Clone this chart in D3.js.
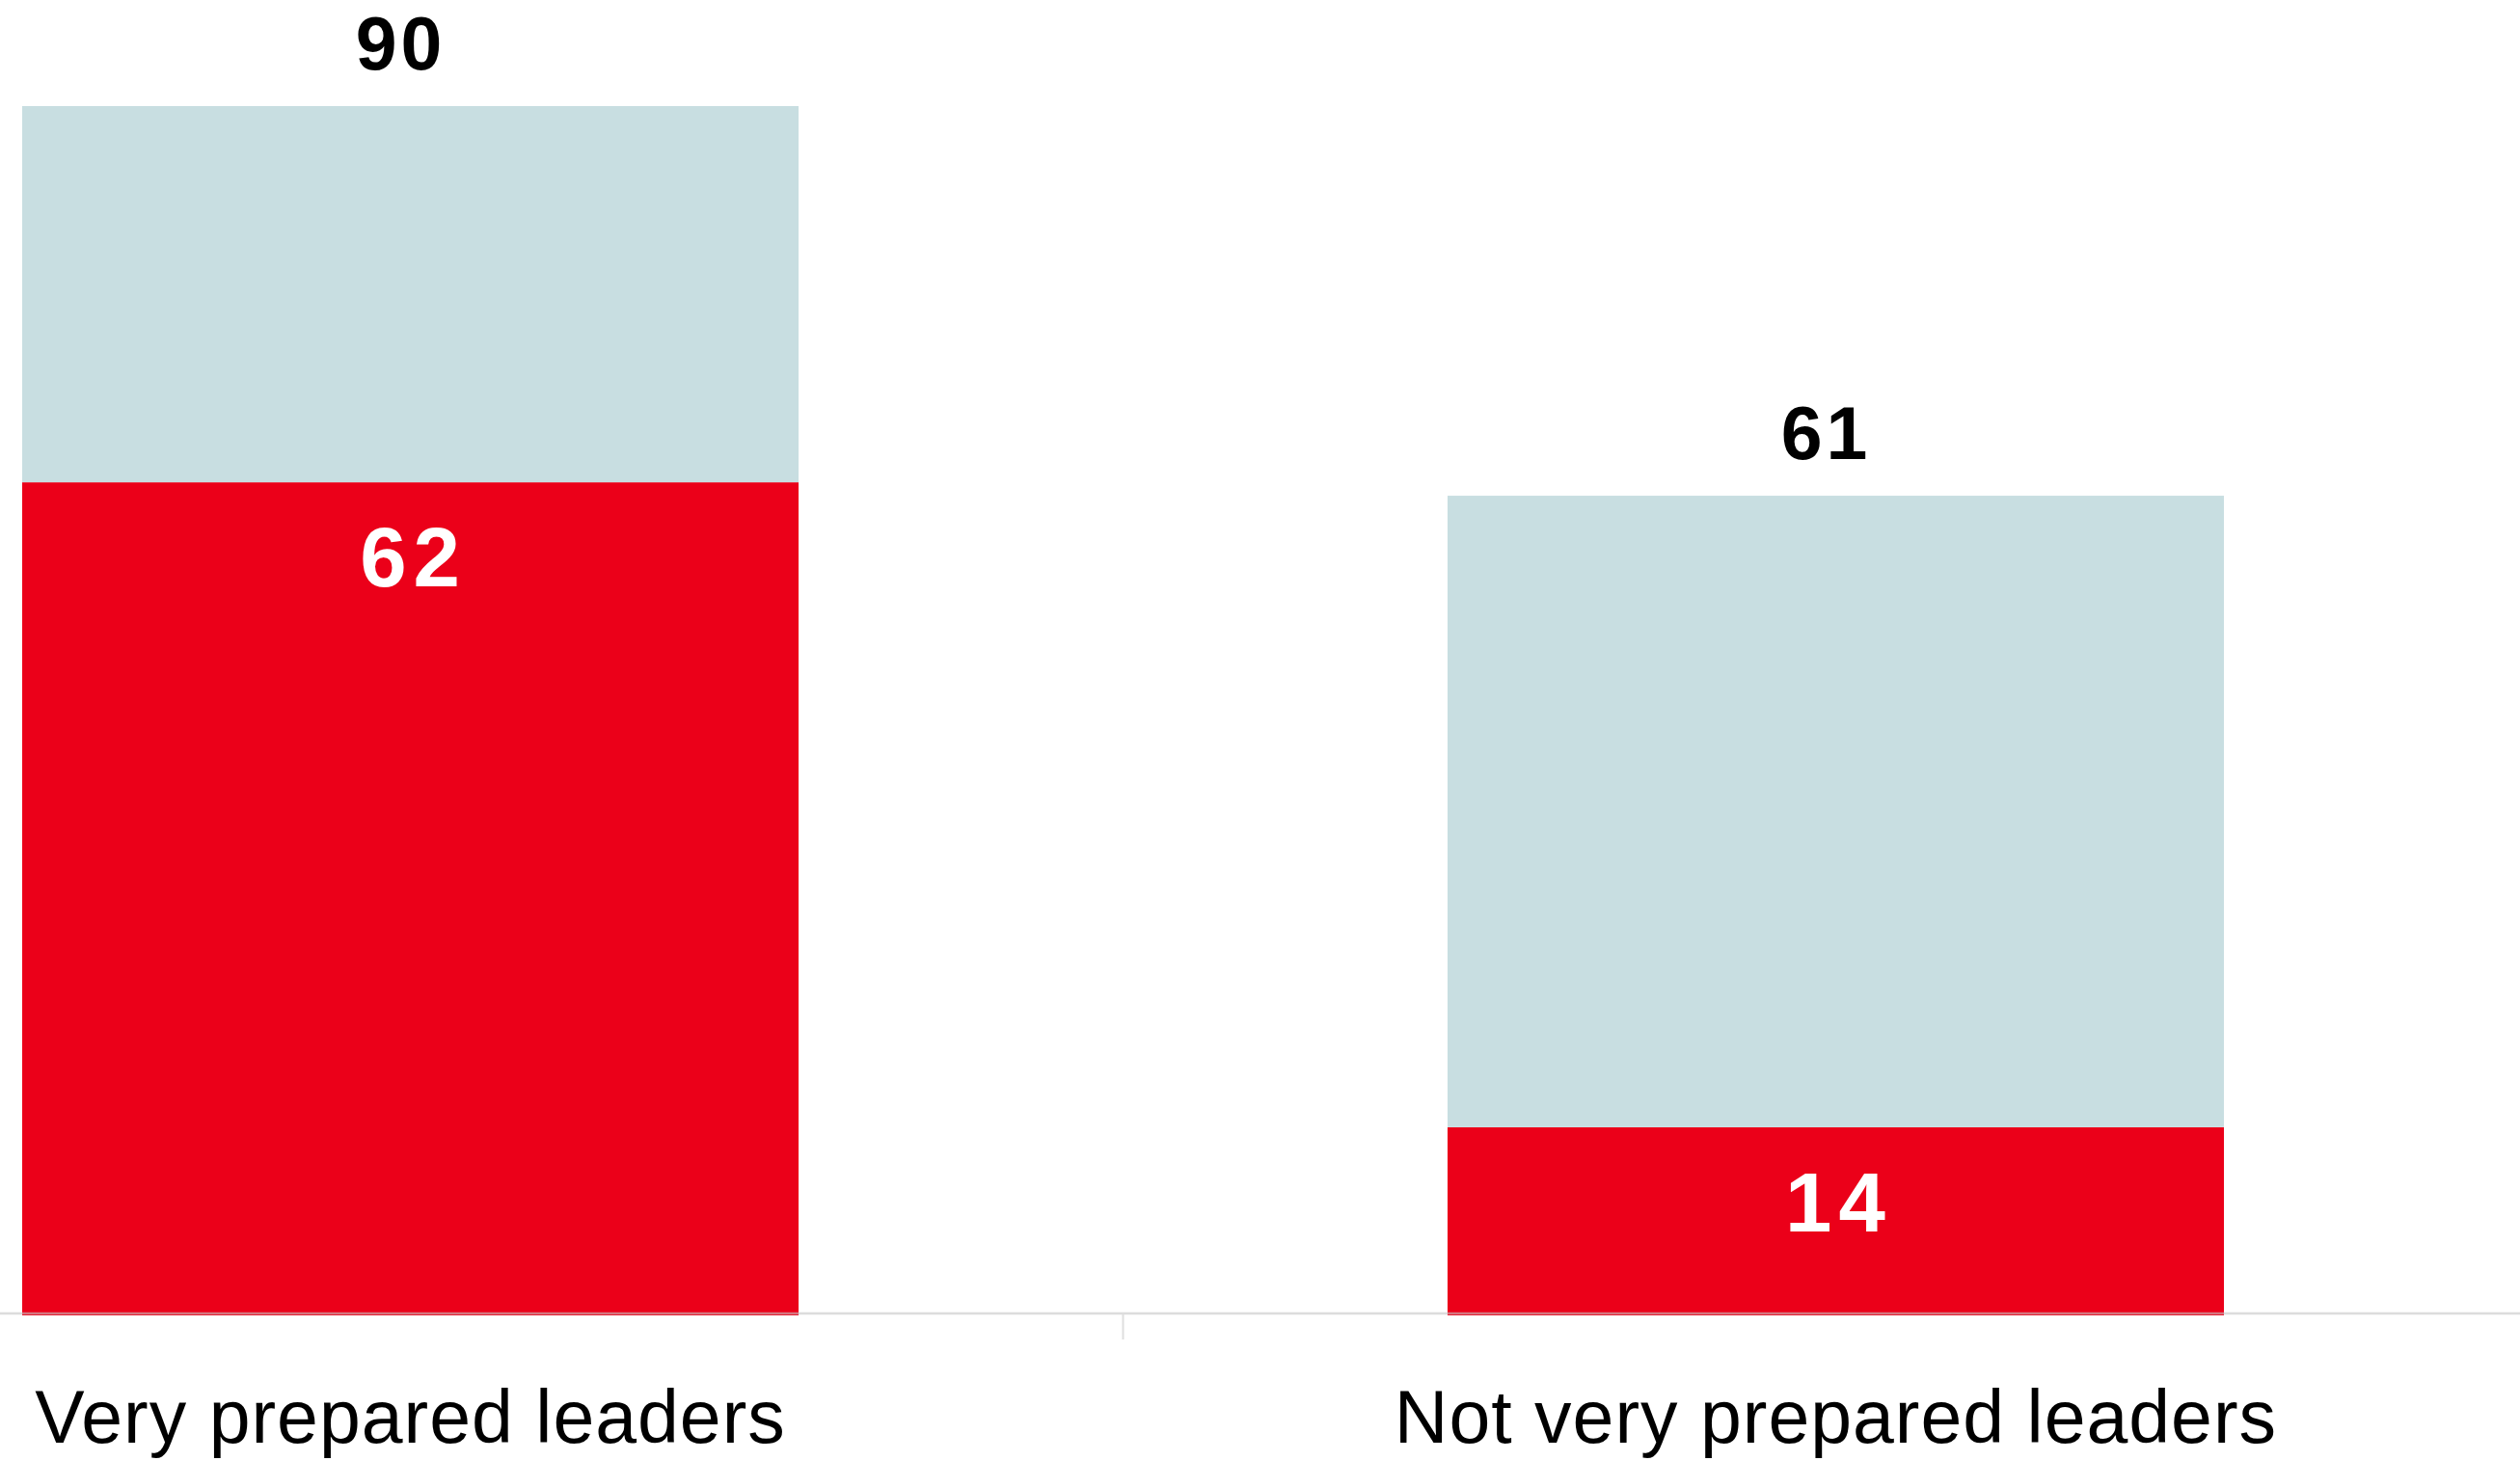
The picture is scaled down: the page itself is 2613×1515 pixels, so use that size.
<!DOCTYPE html>
<html>
<head>
<meta charset="utf-8">
<script src="https://cdn.jsdelivr.net/npm/d3@7"></script>
<style>
  html, body { margin: 0; padding: 0; background: #ffffff; }
  svg { display: block; }
  text { font-family: "Liberation Sans", Arial, Helvetica, sans-serif; }
</style>
</head>
<body>
<svg id="chart" width="2613" height="1515"></svg>
<script>
// Share of leaders, stacked: highlighted part (red) plus remainder (light teal)
const categories = ["Very prepared leaders", "Not very prepared leaders"];
const highlightValues = [62, 14];
const remainderValues = [28, 47];
const totals = categories.map((c, i) => highlightValues[i] + remainderValues[i]);

const W = 2613, H = 1515;
const svg = d3.select("#chart");

const x = d3.scaleBand()
  .domain(categories)
  .range([23, 2306])
  .paddingInner(0.4553)
  .paddingOuter(0);

const y = d3.scaleLinear()
  .domain([0, 90])
  .range([1364, 110]);

const rows = categories.map((c, i) => ({
  cat: c,
  low: highlightValues[i],
  high: remainderValues[i],
  total: totals[i]
}));

const series = d3.stack().keys(["low", "high"])(rows);
const colors = { low: "#eb0019", high: "#c8dee1" };

// stacked bars
svg.append("g")
  .selectAll("g")
  .data(series)
  .join("g")
  .attr("fill", d => colors[d.key])
  .selectAll("rect")
  .data(d => d)
  .join("rect")
  .attr("x", d => x(d.data.cat))
  .attr("width", x.bandwidth())
  .attr("y", d => y(d[1]))
  .attr("height", d => y(d[0]) - y(d[1]));

// baseline across the full width, with a divider tick between the groups
const axisY = 1362;
svg.append("line")
  .attr("x1", 0).attr("x2", W)
  .attr("y1", axisY).attr("y2", axisY)
  .attr("stroke", "#c4c4c4")
  .attr("stroke-opacity", 0.6)
  .attr("stroke-width", 2.5);

const mid = (x(categories[0]) + x.bandwidth() + x(categories[1])) / 2;
svg.append("line")
  .attr("x1", mid).attr("x2", mid)
  .attr("y1", axisY).attr("y2", axisY + 27)
  .attr("stroke", "#dedede")
  .attr("stroke-width", 2);

// totals above each bar
svg.append("g")
  .selectAll("text")
  .data(rows)
  .join("text")
  .attr("x", d => x(d.cat) + x.bandwidth() / 2 - 10)
  .attr("y", d => y(d.total) - 38)
  .attr("text-anchor", "middle")
  .attr("font-size", 77)
  .attr("font-weight", "bold")
  .attr("letter-spacing", 4)
  .attr("fill", "#000")
  .text(d => d.total);

// highlighted value inside the red segment
svg.append("g")
  .selectAll("text")
  .data(rows)
  .join("text")
  .attr("x", d => x(d.cat) + x.bandwidth() / 2 + 3)
  .attr("y", d => y(d.low) + 108)
  .attr("text-anchor", "middle")
  .attr("font-size", 87)
  .attr("font-weight", "bold")
  .attr("letter-spacing", 7)
  .attr("fill", "#ffffff")
  .text(d => d.low);

// category labels
svg.append("g")
  .selectAll("text")
  .data(categories)
  .join("text")
  .attr("x", d => x(d) + x.bandwidth() / 2)
  .attr("y", 1496)
  .attr("text-anchor", "middle")
  .attr("font-size", 77)
  .attr("letter-spacing", 1)
  .attr("fill", "#000")
  .text(d => d);
</script>
</body>
</html>
